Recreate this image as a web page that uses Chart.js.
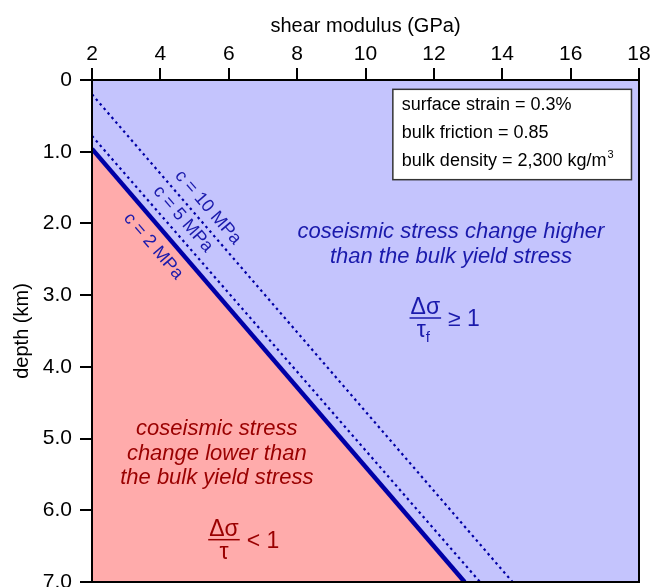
<!DOCTYPE html>
<html>
<head>
<meta charset="utf-8">
<script src="https://cdn.jsdelivr.net/npm/chart.js@4.4.0/dist/chart.umd.min.js"></script>
<style>
  html, body { margin: 0; padding: 0; background: #ffffff; }
  #wrap { width: 652px; height: 587px; }
</style>
</head>
<body>
<div id="wrap"><canvas id="chart" width="652" height="587"></canvas></div>
<script>
// Valores (módulo de cizalla en GPa, profundidad en km)
const xTicks = [2, 4, 6, 8, 10, 12, 14, 16, 18];
const yTicks = [0, 1, 2, 3, 4, 5, 6, 7];
const shearC2 = [2, 12.9];
const depthC2 = [0.96, 7.0];
const shearC5 = [2, 13.35];
const depthC5 = [0.78, 7.0];
const shearC10 = [2, 14.3];
const depthC10 = [0.2, 7.0];
const lineLabels = ['c = 2 MPa', 'c = 5 MPa', 'c = 10 MPa'];
const paramLines = ['surface strain = 0.3%', 'bulk friction = 0.85', 'bulk density = 2,300 kg/m'];

const BLUE_BG = '#c4c4fd';
const RED_BG = '#ffabab';
const LINE_BLUE = '#0000a6';
const TEXT_BLUE = '#1a1aac';
const TEXT_RED = '#9a0000';
const FONT = '"Liberation Sans", Arial, sans-serif';

const toPoints = (xs, ys) => xs.map((x, i) => ({ x: x, y: ys[i] }));

// Fondo azul del área del gráfico + marco
const backgroundPlugin = {
    id: 'bg',
    beforeDraw(chart) {
        const { ctx, chartArea: a } = chart;
        ctx.save();
        ctx.fillStyle = BLUE_BG;
        ctx.fillRect(a.left, a.top, a.right - a.left, a.bottom - a.top);
        ctx.restore();
    },
    afterDatasetsDraw(chart) {
        const { ctx, chartArea: a } = chart;
        ctx.save();
        ctx.strokeStyle = '#000';
        ctx.lineWidth = 2;
        ctx.strokeRect(a.left, a.top, a.right - a.left, a.bottom - a.top);
        ctx.restore();
    }
};

// Textos: etiquetas rotadas, anotaciones y recuadro de parámetros
const textPlugin = {
    id: 'texts',
    afterDraw(chart) {
        const { ctx } = chart;
        const xs = chart.scales.x, ys = chart.scales.y;
        const px = v => xs.getPixelForValue(v);
        const py = v => ys.getPixelForValue(v);

        // etiquetas a lo largo de las líneas
        const lines = [[shearC2, depthC2, 4.17, -17], [shearC5, depthC5, 4.35, 14], [shearC10, depthC10, 5.08, 14]];
        ctx.save();
        ctx.font = '18px ' + FONT;
        ctx.fillStyle = TEXT_BLUE;
        ctx.textAlign = 'center';
        ctx.textBaseline = 'middle';
        lines.forEach((l, i) => {
            const [sx, sy, at, off] = l;
            const x0 = px(sx[0]), y0 = py(sy[0]), x1 = px(sx[1]), y1 = py(sy[1]);
            const ang = Math.atan2(y1 - y0, x1 - x0);
            const t = (at - sx[0]) / (sx[1] - sx[0]);
            const lx = x0 + t * (x1 - x0), ly = y0 + t * (y1 - y0);
            ctx.save();
            ctx.translate(lx, ly);
            ctx.rotate(ang);
            ctx.fillText(lineLabels[i], 0, -off);
            ctx.restore();
        });
        ctx.restore();

        // anotación superior (azul)
        ctx.save();
        ctx.font = 'italic 22px ' + FONT;
        ctx.fillStyle = TEXT_BLUE;
        ctx.textAlign = 'center';
        ctx.textBaseline = 'alphabetic';
        ctx.fillText('coseismic stress change higher', px(12.5), py(2.2));
        ctx.fillText('than the bulk yield stress', px(12.5), py(2.55));
        drawFraction(ctx, px(11.75), py(3.32), 'Δσ', 'τ', 'f', '≥ 1', TEXT_BLUE);
        ctx.restore();

        // anotación inferior (roja)
        ctx.save();
        ctx.font = 'italic 22px ' + FONT;
        ctx.fillStyle = TEXT_RED;
        ctx.textAlign = 'center';
        ctx.fillText('coseismic stress', px(5.65), py(4.95));
        ctx.fillText('change lower than', px(5.65), py(5.3));
        ctx.fillText('the bulk yield stress', px(5.65), py(5.63));
        drawFraction(ctx, px(5.86), py(6.41), 'Δσ', 'τ', '', '< 1', TEXT_RED);
        ctx.restore();

        // recuadro de parámetros
        const bx0 = px(10.8), by0 = py(0.13), bx1 = px(17.78), by1 = py(1.39);
        ctx.save();
        ctx.fillStyle = '#fff';
        ctx.fillRect(bx0, by0, bx1 - bx0, by1 - by0);
        ctx.strokeStyle = '#333';
        ctx.lineWidth = 1.5;
        ctx.strokeRect(bx0, by0, bx1 - bx0, by1 - by0);
        ctx.fillStyle = '#000';
        ctx.font = '18px ' + FONT;
        ctx.textAlign = 'left';
        ctx.textBaseline = 'alphabetic';
        paramLines.forEach((s, i) => {
            ctx.fillText(s, bx0 + 9, by0 + 21 + i * 28);
        });
        const w = ctx.measureText(paramLines[2]).width;
        ctx.font = '11px ' + FONT;
        ctx.fillText('3', bx0 + 9 + w + 1, by0 + 21 + 2 * 28 - 8);
        ctx.restore();
    }
};

function drawFraction(ctx, cx, barY, num, den, sub, rhs, color) {
    ctx.save();
    ctx.fillStyle = color;
    ctx.strokeStyle = color;
    ctx.font = '23px ' + FONT;
    ctx.textAlign = 'center';
    ctx.textBaseline = 'alphabetic';
    const nw = ctx.measureText(num).width;
    ctx.fillText(num, cx, barY - 4);
    ctx.lineWidth = 1.5;
    ctx.beginPath();
    ctx.moveTo(cx - nw / 2 - 1, barY);
    ctx.lineTo(cx + nw / 2 + 1, barY);
    ctx.stroke();
    const dw = ctx.measureText(den).width;
    if (sub) {
        ctx.fillText(den, cx - 4, barY + 19);
        ctx.font = '15px ' + FONT;
        ctx.textAlign = 'left';
        ctx.fillText(sub, cx - 4 + dw / 2, barY + 24);
    } else {
        ctx.fillText(den, cx, barY + 19);
    }
    ctx.font = '23px ' + FONT;
    ctx.textAlign = 'left';
    ctx.textBaseline = 'middle';
    ctx.fillText(rhs, cx + nw / 2 + 8, barY + 2);
    ctx.restore();
}

new Chart(document.getElementById('chart'), {
    type: 'line',
    data: {
        datasets: [
            {
                label: lineLabels[0],
                data: toPoints(shearC2, depthC2),
                borderColor: LINE_BLUE,
                borderWidth: 4.5,
                pointRadius: 0,
                fill: { value: 7 },
                backgroundColor: RED_BG,
                order: 1
            },
            {
                label: lineLabels[1],
                data: toPoints(shearC5, depthC5),
                borderColor: LINE_BLUE,
                borderWidth: 2.2,
                borderDash: [2.5, 3.5],
                pointRadius: 0,
                fill: false,
                order: 2
            },
            {
                label: lineLabels[2],
                data: toPoints(shearC10, depthC10),
                borderColor: LINE_BLUE,
                borderWidth: 2.2,
                borderDash: [2.5, 3.5],
                pointRadius: 0,
                fill: false,
                order: 3
            }
        ]
    },
    options: {
        responsive: false,
        animation: false,
        layout: { padding: { left: 0, right: 13, top: 0, bottom: 5 } },
        plugins: {
            legend: { display: false },
            tooltip: { enabled: false }
        },
        scales: {
            x: {
                type: 'linear',
                position: 'top',
                min: 2,
                max: 18,
                afterBuildTicks: s => { s.ticks = xTicks.map(v => ({ value: v })); },
                afterFit: s => { s.height = 80; s.paddingLeft = 0; s.paddingRight = 0; },
                ticks: {
                    color: '#000',
                    font: { family: FONT, size: 21 },
                    padding: 1
                },
                grid: { drawOnChartArea: false, color: '#000', lineWidth: 2, tickLength: 12 },
                border: { color: '#000', width: 2 },
                title: {
                    display: true,
                    text: 'shear modulus (GPa)',
                    color: '#000',
                    font: { family: FONT, size: 20 },
                    padding: { top: 14, bottom: 0 }
                }
            },
            y: {
                type: 'linear',
                reverse: true,
                min: 0,
                max: 7,
                afterBuildTicks: s => { s.ticks = yTicks.map(v => ({ value: v })); },
                afterFit: s => { s.width = 92; s.paddingTop = 0; s.paddingBottom = 0; },
                ticks: {
                    color: '#000',
                    font: { family: FONT, size: 21 },
                    padding: 8,
                    callback: v => v === 0 ? '0' : v.toFixed(1)
                },
                grid: { drawOnChartArea: false, color: '#000', lineWidth: 2, tickLength: 12 },
                border: { color: '#000', width: 2 },
                title: {
                    display: true,
                    text: 'depth (km)',
                    color: '#000',
                    font: { family: FONT, size: 20 },
                    padding: { top: 10, bottom: 0 }
                }
            }
        }
    },
    plugins: [backgroundPlugin, textPlugin]
});
</script>
</body>
</html>
